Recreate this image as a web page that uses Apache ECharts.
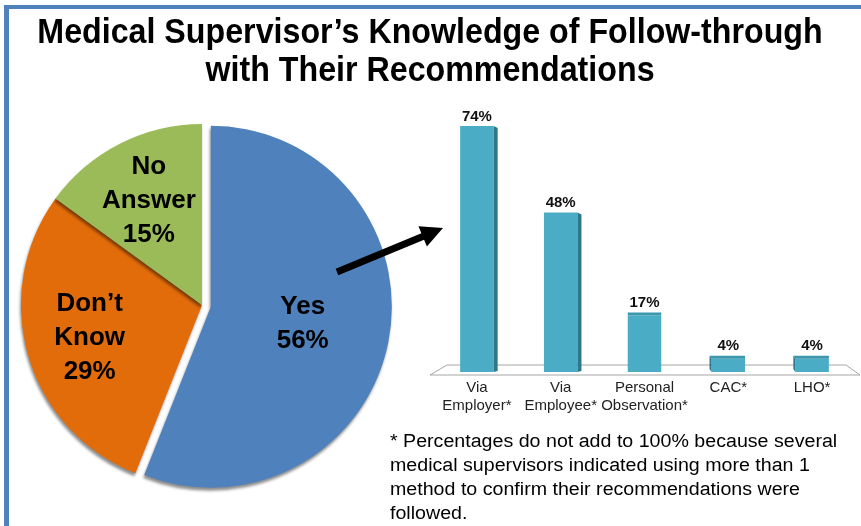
<!DOCTYPE html>
<html><head><meta charset="utf-8">
<script src="https://cdn.jsdelivr.net/npm/echarts@6/dist/echarts.min.js"></script>
<style>html,body{margin:0;padding:0;background:#fff}#c{width:861px;height:526px}</style>
</head><body><div id="c"></div>
<script>
const pieNames = ['Yes', 'Don\u2019t\nKnow', 'No\nAnswer'];
const pieValues = [56, 29, 15];
const pieColors = ['#4f81bd', '#e36c0a', '#9bbb59'];
const barCategories = ['Via\nEmployer*', 'Via\nEmployee*', 'Personal\nObservation*', 'CAC*', 'LHO*'];
const barValues = [74, 48, 17, 4, 4];
const titleText = 'Medical Supervisor\u2019s Knowledge of Follow-through\nwith Their Recommendations';
const footText = '* Percentages do not add to 100% because several\nmedical supervisors indicated using more than 1\nmethod to confirm their recommendations were\nfollowed.';

const chart = echarts.init(document.getElementById('c'), null, {renderer: 'canvas'});
const pieCenter = [202, 305];
const pieR = 181;

const pieData = pieNames.map((n, i) => ({
  name: n, value: pieValues[i], selected: i === 0,
  itemStyle: {color: pieColors[i]},
  label: {show: i === 0}
}));
const pieLabelData = pieNames.map((n, i) => ({
  name: n, value: pieValues[i],
  label: {show: i !== 0}
}));

const pieLabelStyle = {
  position: 'inside',
  formatter: p => p.name + '\n' + p.value + '%',
  fontFamily: 'Liberation Sans, Arial, sans-serif',
  fontWeight: 'bold', fontSize: 26, lineHeight: 34, color: '#000'
};

function renderBar(params, api) {
  const idx = params.dataIndex;
  const v = api.value(1);
  const top = api.coord([api.value(0), v]);
  const base = api.coord([api.value(0), 0]);
  const bw = api.size([1, 0])[0] * 0.4;
  const x0 = top[0] - bw / 2, x1 = top[0] + bw / 2;
  const d = 4, t = 3;
  const children = [];
  children.push({type: 'rect', shape: {x: x0, y: top[1], width: bw, height: base[1] - top[1]},
    style: {fill: '#4bacc6'}});
  if (idx < 2) {
    children.push({type: 'polygon', shape: {points: [[x1, top[1]], [x1 + d, top[1] + 2], [x1 + d, base[1] - 1], [x1, base[1]]]},
      style: {fill: '#2f7688'}});
  } else if (idx > 2) {
    children.push({type: 'polygon', shape: {points: [[x0, top[1]], [x0 - 2, top[1] - t], [x0 - 2, base[1] - t], [x0, base[1]]]},
      style: {fill: '#2f7688'}});
  }
  if (idx >= 2) {
    children.push({type: 'polygon', shape: {points: [[x0, top[1]], [x0 - (idx > 2 ? 2 : 0), top[1] - t], [x1, top[1] - t], [x1, top[1]]]},
      style: {fill: '#3b97ae'}});
  }
  children.push({type: 'text', style: {
    x: top[0], y: top[1] - (idx >= 2 ? t : 0) - 2, text: v + '%',
    textAlign: 'center', textVerticalAlign: 'bottom',
    fontFamily: 'Liberation Sans, Arial, sans-serif', fontWeight: 'bold', fontSize: 15, fill: '#111'}});
  return {type: 'group', children};
}

function renderFloor(params, api) {
  const cs = params.coordSys;
  const yb = cs.y + cs.height;
  return {type: 'polygon', shape: {points: [
    [cs.x + 12, yb - 7], [cs.x + cs.width - 8, yb - 7], [cs.x + cs.width + 6, yb + 3], [cs.x - 5, yb + 3]
  ]}, style: {fill: '#ffffff', stroke: '#a6a6a6', lineWidth: 1}};
}

const arrowTail = [337, 272], arrowTip = [443, 228];
const adx = arrowTip[0] - arrowTail[0], ady = arrowTip[1] - arrowTail[1];
const alen = Math.hypot(adx, ady);
const ux = adx / alen, uy = ady / alen;
const headL = 22, headW = 11;
const bc = [arrowTip[0] - ux * headL, arrowTip[1] - uy * headL];
const px = -uy, py = ux;

chart.setOption({
  backgroundColor: '#fff',
  animation: false,
  grid: {left: 435, right: 7, top: 106, bottom: 154, containLabel: false},
  xAxis: {type: 'category', data: barCategories,
    axisLine: {show: false}, axisTick: {show: false},
    axisLabel: {margin: 7, interval: 0, fontFamily: 'Liberation Sans, Arial, sans-serif', fontSize: 15, lineHeight: 18, color: '#222'}},
  yAxis: {type: 'value', min: 0, max: 80, show: false, splitLine: {show: false}},
  series: [
    {type: 'custom', renderItem: renderFloor, data: [[0, 0]], silent: true, z: 1},
    {type: 'custom', renderItem: renderBar, data: barValues.map((v, i) => [i, v]), z: 2},
    {type: 'pie', center: pieCenter, radius: [0, pieR], startAngle: 90, clockwise: true,
      selectedMode: 'single', selectedOffset: 9, avoidLabelOverlap: false,
      data: pieData, label: pieLabelStyle, labelLine: {show: false},
      itemStyle: {shadowColor: 'rgba(0,0,0,0.45)', shadowBlur: 3, shadowOffsetY: 3, shadowOffsetX: -1},
      emphasis: {disabled: true}, z: 3},
    {type: 'pie', center: pieCenter, radius: [0, 228], startAngle: 90, clockwise: true, silent: true,
      data: pieLabelData, itemStyle: {color: 'rgba(0,0,0,0)'}, label: pieLabelStyle, labelLine: {show: false},
      emphasis: {disabled: true}, z: 4}
  ],
  graphic: [
    {type: 'rect', shape: {x: 4, y: 5, width: 5, height: 521}, style: {fill: '#4f81bd'}, z: 10},
    {type: 'rect', shape: {x: 4, y: 5, width: 857, height: 4}, style: {fill: '#4f81bd'}, z: 10},
    {type: 'text', x: 430, y: 14, scaleX: 0.92, z: 10, style: {text: titleText, textAlign: 'center', textVerticalAlign: 'top',
      fontFamily: 'Liberation Sans, Arial, sans-serif', fontWeight: 'bold', fontSize: 35, lineHeight: 38, fill: '#000'}},
    {type: 'line', shape: {x1: arrowTail[0], y1: arrowTail[1], x2: bc[0] + ux * 2, y2: bc[1] + uy * 2},
      style: {stroke: '#000', lineWidth: 7}, z: 10},
    {type: 'polygon', shape: {points: [arrowTip, [bc[0] + px * headW, bc[1] + py * headW], [bc[0] - px * headW, bc[1] - py * headW]]},
      style: {fill: '#000'}, z: 10},
    {type: 'text', x: 390, y: 430, scaleX: 1.09, z: 10, style: {text: footText, textVerticalAlign: 'top',
      fontFamily: 'Liberation Sans, Arial, sans-serif', fontSize: 18, lineHeight: 24, fill: '#000'}}
  ]
});
</script></body></html>
